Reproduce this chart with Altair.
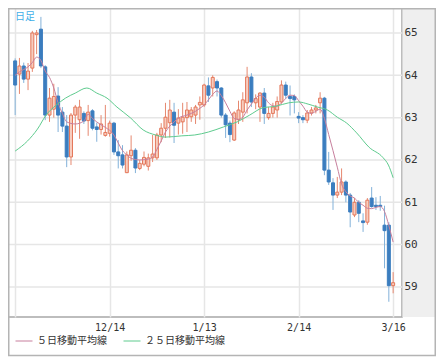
import altair as alt
import pandas as pd

# ---- candle data (index = trading day, 0 .. 88) ----
opens = [64.34, 64.03, 64.22, 63.91, 64.17, 64.96, 65.09, 64.20, 63.06, 63.20,
         63.51, 63.13, 62.80, 62.07, 63.06, 62.95, 63.10, 62.93, 63.16, 62.78,
         62.72, 62.58, 62.63, 62.87, 62.19, 62.12, 61.70, 62.10, 62.23, 61.80,
         61.90, 61.85, 62.05, 62.05, 62.59, 62.75, 62.88, 63.13, 62.87, 62.90,
         63.00, 63.02, 63.06, 63.30, 63.30, 63.75, 63.70, 63.85, 63.70, 63.06,
         62.87, 62.47, 62.95, 63.13, 63.35, 63.96, 63.35, 63.25, 63.58, 63.00,
         63.10, 63.18, 63.37, 63.77, 63.50, 63.50, 63.03, 63.00, 62.94, 63.11,
         63.18, 63.35, 63.46, 61.76, 61.46, 61.17, 61.24, 61.48, 61.17, 60.70,
         61.00, 60.56, 60.53, 61.10, 60.93, 60.93, 60.46, 60.46, 59.03]
highs = [64.40, 64.41, 64.30, 64.29, 65.05, 65.07, 65.38, 64.24, 63.70, 63.80,
         63.72, 63.25, 63.06, 63.11, 63.30, 63.42, 63.15, 63.30, 63.20, 62.88,
         63.06, 63.30, 62.93, 62.90, 62.47, 62.35, 62.20, 62.58, 62.28, 62.00,
         62.20, 62.15, 62.59, 62.64, 62.87, 63.35, 63.42, 63.35, 63.20, 63.35,
         63.37, 63.25, 63.30, 63.50, 63.80, 63.95, 64.00, 63.90, 63.72, 63.11,
         62.93, 63.15, 63.40, 63.60, 64.20, 64.05, 63.55, 63.60, 63.70, 63.25,
         63.35, 63.50, 63.88, 63.85, 63.76, 63.55, 63.13, 63.06, 63.18, 63.25,
         63.30, 63.60, 63.49, 62.19, 61.57, 61.60, 61.80, 61.52, 61.22, 61.10,
         61.05, 60.74, 61.10, 61.36, 61.12, 61.15, 60.92, 60.53, 59.35]
lows = [63.06, 63.56, 63.82, 63.65, 64.08, 64.50, 64.17, 62.94, 62.90, 63.00,
        62.66, 62.66, 61.83, 61.88, 62.64, 62.50, 62.85, 62.57, 62.70, 62.43,
        62.60, 62.55, 62.55, 62.12, 61.80, 61.80, 61.69, 61.98, 61.69, 61.76,
        61.85, 61.75, 61.95, 62.00, 62.42, 62.52, 62.53, 62.40, 62.60, 62.62,
        62.66, 62.90, 62.85, 62.95, 63.25, 63.37, 63.50, 63.50, 63.00, 62.52,
        62.42, 62.45, 62.85, 62.90, 63.10, 63.25, 63.20, 62.90, 62.85, 62.95,
        63.00, 63.00, 63.33, 63.45, 63.05, 63.10, 62.87, 62.87, 62.87, 63.05,
        63.10, 63.10, 61.64, 61.41, 60.82, 61.10, 61.17, 61.00, 60.41, 60.65,
        60.53, 60.30, 60.47, 60.87, 60.82, 60.80, 59.44, 58.65, 58.85]
closes = [63.77, 64.22, 63.91, 64.10, 65.00, 65.00, 64.22, 63.06, 63.46, 63.50,
          63.06, 62.80, 62.07, 63.06, 63.25, 63.25, 62.92, 63.13, 62.75, 62.72,
          62.85, 62.65, 62.87, 62.19, 62.10, 61.88, 62.12, 62.23, 61.81, 61.92,
          62.06, 62.05, 62.14, 62.59, 62.75, 63.01, 63.18, 62.82, 62.99, 63.01,
          63.18, 63.18, 63.25, 63.36, 63.77, 63.53, 63.95, 63.70, 63.06, 62.83,
          62.60, 63.11, 63.18, 63.42, 63.96, 63.37, 63.45, 63.58, 63.10, 63.10,
          63.25, 63.38, 63.77, 63.53, 63.45, 63.42, 62.99, 62.95, 63.11, 63.18,
          63.23, 63.46, 61.76, 61.48, 61.17, 61.24, 61.48, 61.17, 60.77, 61.00,
          60.74, 60.52, 61.05, 60.90, 60.90, 60.90, 60.33, 59.03, 59.10]
day_index = list(range(len(closes)))

# ---- moving averages ----
ma5_idx = [0, 1, 3, 4, 5, 6, 7, 8, 9, 10, 11, 12, 14, 16, 17, 18, 20, 21, 23, 24,
           25, 26, 27, 29, 31, 32, 33, 34, 35, 36, 37, 38, 40, 42, 43, 44, 45, 46,
           47, 48, 49, 50, 51, 52, 53, 54, 55, 56, 57, 58, 59, 60, 61, 62, 63, 64,
           65, 66, 67, 68, 69, 70, 71, 72, 73, 74, 75, 76, 77, 78, 79, 80, 81, 82,
           83, 84, 85, 86, 87, 88]
ma5_val = [64.00, 64.08, 64.20, 64.30, 64.43, 64.35, 64.10, 63.95, 63.70, 63.35,
           63.10, 62.90, 62.85, 62.92, 63.08, 62.98, 62.83, 62.77, 62.59, 62.40,
           62.22, 62.12, 62.04, 62.00, 62.02, 62.07, 62.25, 62.45, 62.66, 62.80,
           62.90, 62.99, 63.06, 63.15, 63.22, 63.30, 63.42, 63.55, 63.63, 63.52,
           63.35, 63.15, 62.98, 62.96, 63.01, 63.18, 63.32, 63.46, 63.53, 63.48,
           63.35, 63.28, 63.27, 63.35, 63.45, 63.53, 63.52, 63.40, 63.27, 63.13,
           63.10, 63.15, 63.20, 62.98, 62.60, 62.22, 61.83, 61.43, 61.25, 61.15,
           61.10, 61.00, 60.93, 60.86, 60.85, 60.88, 60.90, 60.78, 60.45, 60.06]
ma25_idx = [0, 2.9, 5.2, 7.2, 9.5, 11.7, 14, 16.7, 19, 21.4, 23.7, 26.9, 29.8,
            32.7, 35, 38.8, 41.8, 45, 48.5, 51.7, 54.6, 57.6, 60.7, 63.7, 66,
            68.2, 70.4, 72.7, 75, 77.2, 79.5, 82.4, 85.6, 86.9, 88]
ma25_val = [62.21, 62.45, 62.73, 63.06, 63.29, 63.46, 63.58, 63.70, 63.58, 63.46,
            63.25, 62.99, 62.71, 62.59, 62.54, 62.57, 62.59, 62.66, 62.78, 62.90,
            63.06, 63.23, 63.27, 63.35, 63.37, 63.32, 63.25, 63.18, 63.01, 62.87,
            62.64, 62.30, 62.06, 61.88, 61.58]
series_names = ["５日移動平均線", "２５日移動平均線"]

# ---- axis ticks ----
y_ticks = [59, 60, 61, 62, 63, 64, 65]
x_tick_idx = [0, 22, 44, 66, 88]
x_tick_labels = ["", "12/14", "1/13", "2/14", "3/16"]
corner_label = "日足"

candles = pd.DataFrame({"i": day_index, "open": opens, "high": highs,
                        "low": lows, "close": closes})
ma = pd.DataFrame({
    "i": ma5_idx + ma25_idx,
    "v": ma5_val + ma25_val,
    "s": [series_names[0]] * len(ma5_idx) + [series_names[1]] * len(ma25_idx),
})
ticks_df = pd.DataFrame({"v": y_ticks})
one = pd.DataFrame({"a": [0]})

W, H = 394, 309
PANEL = 34
xs = alt.Scale(domain=[-0.5, 88.9], nice=False, zero=False)
ys = alt.Scale(domain=[58.29, 65.59], nice=False, zero=False)

label_expr = "''"
for v, lab in zip(x_tick_idx, x_tick_labels):
    label_expr = f"datum.value == {v} ? '{lab}' : (" + label_expr + ")"

x_axis = alt.Axis(values=x_tick_idx, grid=True, gridColor="#e6e6e6",
                  gridWidth=1.5, domain=False, ticks=False,
                  labelExpr=label_expr, labelPadding=5, labelFontSize=10,
                  labelColor="#333333", labelFont="DejaVu Sans Mono", title=None)
y_axis = alt.Axis(orient="right", values=y_ticks, grid=False, domain=False,
                  ticks=False, labelPadding=2, labelFontSize=11,
                  labelColor="#333333", labelFont="DejaVu Sans Mono",
                  title=None, zindex=1)

RED_LINE, RED_FILL, RED_WICK = "#e4775a", "#f7cdbf", "#e6886f"
BLUE_FILL, BLUE_WICK = "#3b7dbf", "#82b1d9"
up = "datum.close >= datum.open"

hgrid = alt.Chart(ticks_df).mark_rule(color="#e6e6e6", strokeWidth=1.5).encode(
    y=alt.Y("v:Q", scale=ys, axis=y_axis),
)

panel = alt.Chart(one).mark_rect(fill="#efefef", clip=False).encode(
    x=alt.value(W + 0.5), x2=alt.value(W + PANEL), y=alt.value(0), y2=alt.value(H))

wicks = alt.Chart(candles).mark_rule(strokeWidth=1).encode(
    x=alt.X("i:Q", scale=xs, axis=x_axis),
    y=alt.Y("low:Q", scale=ys, axis=y_axis),
    y2="high:Q",
    color=alt.condition(up, alt.value(RED_WICK), alt.value(BLUE_WICK)),
)

bodies = alt.Chart(candles).mark_bar(size=3, strokeWidth=1).encode(
    x=alt.X("i:Q", scale=xs, axis=x_axis),
    y=alt.Y("open:Q", scale=ys, axis=y_axis),
    y2="close:Q",
    fill=alt.condition(up, alt.value(RED_FILL), alt.value(BLUE_FILL)),
    stroke=alt.condition(up, alt.value(RED_LINE), alt.value(BLUE_FILL)),
)

lines = alt.Chart(ma).mark_line(strokeWidth=1, interpolate="monotone").encode(
    x=alt.X("i:Q", scale=xs, axis=x_axis),
    y=alt.Y("v:Q", scale=ys, axis=y_axis),
    color=alt.Color("s:N", scale=alt.Scale(domain=series_names,
                                           range=["#c77f9d", "#5ecb8e"]),
                    sort=series_names,
                    legend=alt.Legend(orient="none", legendX=7, legendY=324,
                                      direction="horizontal", title=None,
                                      symbolType="stroke", symbolSize=289,
                                      symbolStrokeWidth=1, labelFontSize=10,
                                      labelFont="Noto Sans CJK JP",
                                      labelColor="#333333", labelOffset=4,
                                      columnPadding=14, padding=0)),
)

border = alt.Chart(one).mark_rect(fillOpacity=0, stroke="#b4b4b4", strokeWidth=1.5,
                                  clip=False).encode(
    x=alt.value(0.75), x2=alt.value(W + PANEL - 0.75), y=alt.value(0.75),
    y2=alt.value(H + 38.5))

corner = alt.Chart(one).mark_text(align="left", baseline="middle", fontSize=10,
                                  font="Noto Sans CJK JP", color="#3eaee8").encode(
    x=alt.value(7), y=alt.value(9), text=alt.value(corner_label))

chart = alt.layer(hgrid, panel, wicks, bodies, lines, border, corner).properties(
    width=W, height=H,
    background="white",
    autosize=alt.AutoSizeParams(type="none"),
    padding={"left": 0, "top": 0, "right": PANEL, "bottom": 40},
).configure_view(stroke="#a8a8a8", strokeWidth=1.5)

chart.save("out.html", embed_options={"renderer": "svg", "actions": False})
